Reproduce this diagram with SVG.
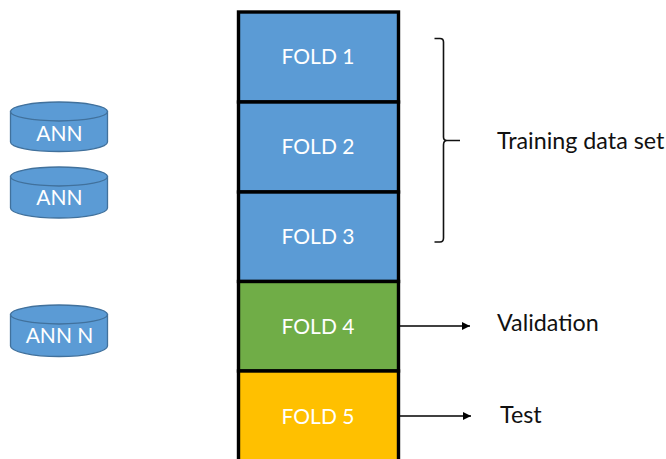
<svg xmlns="http://www.w3.org/2000/svg" width="666" height="459" viewBox="0 0 666 459">
<defs>
<marker id="arrow" markerUnits="userSpaceOnUse" markerWidth="9" markerHeight="9" refX="8" refY="4" orient="auto"><path d="M0,0L8,4L0,8Z" fill="#000"/></marker>
</defs>
<style>
text{font-family:"Lato","Open Sans","Liberation Sans",sans-serif}
.fold{stroke:#000;stroke-width:3.400}
.lab{fill:#fff;font-size:21px;text-anchor:middle}
.side{fill:#111;font-size:23.300px}
.db{fill:#5b9bd5;stroke:#41719c;stroke-width:1.300}
.conn{fill:none;stroke:#000;stroke-width:1.300}
.br{fill:none;stroke:#111;stroke-width:1.600}
</style>
<rect width="666" height="459" fill="#fff"/>
<g id="ann1"><path class="db" d="M10.500,111.500V142C10.500,147.500 32,151.500 59,151.500S107.500,147.500 107.500,142V111.500Z"/><ellipse class="db" cx="59" cy="111.500" rx="48.500" ry="9.500"/><text class="lab" x="59.500" y="141">ANN</text></g>
<g id="ann2"><path class="db" d="M10.500,176.500V208C10.500,213.500 32,218 59,218S107.500,213.500 107.500,208V176.500Z"/><ellipse class="db" cx="59" cy="176.500" rx="48.500" ry="9.500"/><text class="lab" x="59.500" y="205">ANN</text></g>
<g id="annN"><path class="db" d="M10.500,314.500V346C10.500,351.500 32,356.500 59,356.500S107.500,351.500 107.500,346V314.500Z"/><ellipse class="db" cx="59" cy="314.500" rx="48.500" ry="9.500"/><text class="lab" x="59.500" y="343">ANN N</text></g>
<g id="fold1"><rect class="fold" x="238.500" y="12" width="160" height="90" fill="#5b9bd5"/><text class="lab" x="318" y="64">FOLD 1</text></g>
<g id="fold2"><rect class="fold" x="238.500" y="102" width="160" height="90" fill="#5b9bd5"/><text class="lab" x="318" y="154">FOLD 2</text></g>
<g id="fold3"><rect class="fold" x="238.500" y="192" width="160" height="89.500" fill="#5b9bd5"/><text class="lab" x="318" y="244">FOLD 3</text></g>
<g id="fold4"><rect class="fold" x="238.500" y="281.500" width="160" height="89.500" fill="#70ad47"/><text class="lab" x="318" y="334">FOLD 4</text></g>
<g id="fold5"><rect class="fold" x="238.500" y="371" width="160" height="92" fill="#ffc000"/><text class="lab" x="318" y="424">FOLD 5</text></g>
<g id="connectors">
<path class="br" d="M434.500,38.500H440Q443.500,38.500 443.500,42V137Q443.500,140.500 447,140.500H460M447,140.500Q443.500,140.500 443.500,145V238Q443.500,242 440,242H434.500"/>
<line class="conn" x1="400" y1="326" x2="470" y2="326" marker-end="url(#arrow)"/>
<line class="conn" x1="400" y1="416" x2="471" y2="416" marker-end="url(#arrow)"/>
</g>
<g id="labels">
<text class="side" x="497" y="149">Training data set</text>
<text class="side" x="497" y="331">Validation</text>
<text class="side" x="500" y="423">Test</text>
</g>
</svg>
